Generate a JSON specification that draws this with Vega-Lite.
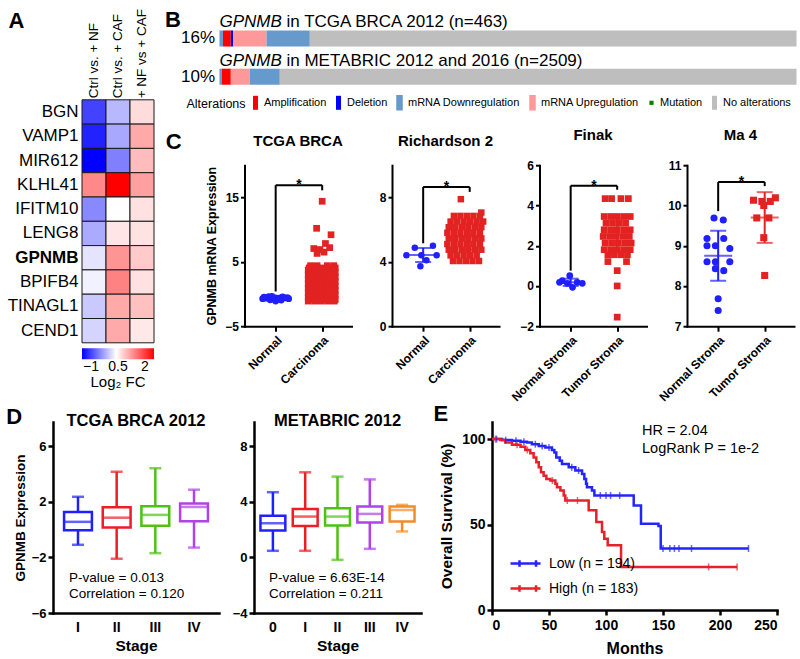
{
"$schema": "https://vega.github.io/schema/vega-lite/v6.json",
"background": "white",
"padding": {"left": 6, "top": 8, "right": 0, "bottom": 0},
"config": {
  "font": "Liberation Sans",
  "view": {"stroke": null},
  "axis": {"labelFont": "Liberation Sans", "titleFont": "Liberation Sans", "labelColor": "black", "titleColor": "black", "domainColor": "black", "tickColor": "black", "grid": false, "domainCap": "square", "labelOverlap": false},
  "legend": {"labelFont": "Liberation Sans", "titleFont": "Liberation Sans", "labelColor": "black", "titleColor": "black"},
  "title": {"font": "Liberation Sans", "color": "black"},
  "text": {"font": "Liberation Sans", "color": "black"}
},
"datasets": {
  "heat": [
    {"gene":"BGN","cmp":"Ctrl vs. + NF","fc":-1.0},{"gene":"BGN","cmp":"Ctrl vs. + CAF","fc":-0.13},{"gene":"BGN","cmp":"+ NF vs + CAF","fc":0.69},
    {"gene":"VAMP1","cmp":"Ctrl vs. + NF","fc":-1.25},{"gene":"VAMP1","cmp":"Ctrl vs. + CAF","fc":-0.25},{"gene":"VAMP1","cmp":"+ NF vs + CAF","fc":1.11},
    {"gene":"MIR612","cmp":"Ctrl vs. + NF","fc":-1.5},{"gene":"MIR612","cmp":"Ctrl vs. + CAF","fc":-0.55},{"gene":"MIR612","cmp":"+ NF vs + CAF","fc":0.95},
    {"gene":"KLHL41","cmp":"Ctrl vs. + NF","fc":1.37},{"gene":"KLHL41","cmp":"Ctrl vs. + CAF","fc":2.5},{"gene":"KLHL41","cmp":"+ NF vs + CAF","fc":1.18},
    {"gene":"IFITM10","cmp":"Ctrl vs. + NF","fc":-0.49},{"gene":"IFITM10","cmp":"Ctrl vs. + CAF","fc":0.4},{"gene":"IFITM10","cmp":"+ NF vs + CAF","fc":0.65},
    {"gene":"LENG8","cmp":"Ctrl vs. + NF","fc":-0.23},{"gene":"LENG8","cmp":"Ctrl vs. + CAF","fc":0.61},{"gene":"LENG8","cmp":"+ NF vs + CAF","fc":0.63},
    {"gene":"GPNMB","cmp":"Ctrl vs. + NF","fc":0.2},{"gene":"GPNMB","cmp":"Ctrl vs. + CAF","fc":1.28},{"gene":"GPNMB","cmp":"+ NF vs + CAF","fc":0.84},
    {"gene":"BPIFB4","cmp":"Ctrl vs. + NF","fc":0.3},{"gene":"BPIFB4","cmp":"Ctrl vs. + CAF","fc":1.43},{"gene":"BPIFB4","cmp":"+ NF vs + CAF","fc":0.65},
    {"gene":"TINAGL1","cmp":"Ctrl vs. + NF","fc":0.0},{"gene":"TINAGL1","cmp":"Ctrl vs. + CAF","fc":1.11},{"gene":"TINAGL1","cmp":"+ NF vs + CAF","fc":0.92},
    {"gene":"CEND1","cmp":"Ctrl vs. + NF","fc":0.08},{"gene":"CEND1","cmp":"Ctrl vs. + CAF","fc":1.1},{"gene":"CEND1","cmp":"+ NF vs + CAF","fc":0.59}
  ],
  "onco": [
    {"row":"16%","alt":"mRNA Downregulation","s":0,"e":0.6},
    {"row":"16%","alt":"Amplification","s":0.6,"e":1.96},
    {"row":"16%","alt":"Deletion","s":1.96,"e":2.37},
    {"row":"16%","alt":"mRNA Upregulation","s":2.37,"e":8.15},
    {"row":"16%","alt":"mRNA Downregulation","s":8.15,"e":15.65},
    {"row":"16%","alt":"No alterations","s":15.65,"e":100},
    {"row":"10%","alt":"mRNA Downregulation","s":0,"e":0.4},
    {"row":"10%","alt":"Amplification","s":0.4,"e":1.96},
    {"row":"10%","alt":"mRNA Upregulation","s":1.96,"e":5.25},
    {"row":"10%","alt":"mRNA Downregulation","s":5.25,"e":10.45},
    {"row":"10%","alt":"No alterations","s":10.45,"e":100}
  ],
  "oncot": [
    {"row":"16%","a":"GPNMB","b":"in TCGA BRCA 2012 (n=463)"},
    {"row":"10%","a":"GPNMB","b":"in METABRIC 2012 and 2016 (n=2509)"}
  ],
  "cpts": [
    {"p":"c1","g":"N","x":1.0,"v":-0.6},{"p":"c1","g":"N","x":0.9,"v":-0.55},{"p":"c1","g":"N","x":1.1,"v":-0.58},{"p":"c1","g":"N","x":0.8,"v":-0.65},{"p":"c1","g":"N","x":1.2,"v":-0.62},{"p":"c1","g":"N","x":0.75,"v":-0.5},{"p":"c1","g":"N","x":1.25,"v":-0.55},{"p":"c1","g":"N","x":0.95,"v":-0.8},{"p":"c1","g":"N","x":1.05,"v":-0.85},{"p":"c1","g":"N","x":1.0,"v":-1.1},{"p":"c1","g":"N","x":0.85,"v":-0.4},{"p":"c1","g":"N","x":1.15,"v":-0.45},{"p":"c1","g":"N","x":0.92,"v":-0.35},{"p":"c1","g":"N","x":1.08,"v":-0.7},{"p":"c1","g":"N","x":0.72,"v":-0.72},{"p":"c1","g":"N","x":1.28,"v":-0.72},{"p":"c1","g":"N","x":0.88,"v":-0.9},{"p":"c1","g":"N","x":1.12,"v":-0.95},
    {"p":"c1","g":"T","x":2.0,"v":14.4},{"p":"c1","g":"T","x":1.88,"v":10.2},{"p":"c1","g":"T","x":2.19,"v":9.2},{"p":"c1","g":"T","x":2.07,"v":7.84},{"p":"c1","g":"T","x":1.82,"v":7.06},{"p":"c1","g":"T","x":1.95,"v":6.9},{"p":"c1","g":"T","x":2.16,"v":7.2},{"p":"c1","g":"T","x":2.04,"v":6.5},{"p":"c1","g":"T","x":1.89,"v":6.3},
    {"p":"c1","g":"T","x":1.75,"v":4.4},{"p":"c1","g":"T","x":1.89,"v":4.4},{"p":"c1","g":"T","x":2.11,"v":4.4},{"p":"c1","g":"T","x":2.25,"v":4.4},
    {"p":"c1","g":"T","x":1.72,"v":4.05},{"p":"c1","g":"T","x":1.86,"v":4.05},{"p":"c1","g":"T","x":2.0,"v":4.05},{"p":"c1","g":"T","x":2.14,"v":4.05},{"p":"c1","g":"T","x":2.28,"v":4.05},
    {"p":"c1","g":"T","x":1.7,"v":3.7},{"p":"c1","g":"T","x":1.84,"v":3.7},{"p":"c1","g":"T","x":1.98,"v":3.7},{"p":"c1","g":"T","x":2.12,"v":3.7},{"p":"c1","g":"T","x":2.26,"v":3.7},
    {"p":"c1","g":"T","x":1.72,"v":3.35},{"p":"c1","g":"T","x":1.86,"v":3.35},{"p":"c1","g":"T","x":2.0,"v":3.35},{"p":"c1","g":"T","x":2.14,"v":3.35},{"p":"c1","g":"T","x":2.28,"v":3.35},
    {"p":"c1","g":"T","x":1.7,"v":3.0},{"p":"c1","g":"T","x":1.84,"v":3.0},{"p":"c1","g":"T","x":1.98,"v":3.0},{"p":"c1","g":"T","x":2.12,"v":3.0},{"p":"c1","g":"T","x":2.26,"v":3.0},
    {"p":"c1","g":"T","x":1.72,"v":2.65},{"p":"c1","g":"T","x":1.86,"v":2.65},{"p":"c1","g":"T","x":2.0,"v":2.65},{"p":"c1","g":"T","x":2.14,"v":2.65},{"p":"c1","g":"T","x":2.28,"v":2.65},
    {"p":"c1","g":"T","x":1.7,"v":2.3},{"p":"c1","g":"T","x":1.84,"v":2.3},{"p":"c1","g":"T","x":1.98,"v":2.3},{"p":"c1","g":"T","x":2.12,"v":2.3},{"p":"c1","g":"T","x":2.26,"v":2.3},
    {"p":"c1","g":"T","x":1.72,"v":1.95},{"p":"c1","g":"T","x":1.86,"v":1.95},{"p":"c1","g":"T","x":2.0,"v":1.95},{"p":"c1","g":"T","x":2.14,"v":1.95},{"p":"c1","g":"T","x":2.28,"v":1.95},
    {"p":"c1","g":"T","x":1.7,"v":1.6},{"p":"c1","g":"T","x":1.84,"v":1.6},{"p":"c1","g":"T","x":1.98,"v":1.6},{"p":"c1","g":"T","x":2.12,"v":1.6},{"p":"c1","g":"T","x":2.26,"v":1.6},
    {"p":"c1","g":"T","x":1.72,"v":1.25},{"p":"c1","g":"T","x":1.86,"v":1.25},{"p":"c1","g":"T","x":2.0,"v":1.25},{"p":"c1","g":"T","x":2.14,"v":1.25},{"p":"c1","g":"T","x":2.28,"v":1.25},
    {"p":"c1","g":"T","x":1.7,"v":0.9},{"p":"c1","g":"T","x":1.84,"v":0.9},{"p":"c1","g":"T","x":1.98,"v":0.9},{"p":"c1","g":"T","x":2.12,"v":0.9},{"p":"c1","g":"T","x":2.26,"v":0.9},
    {"p":"c1","g":"T","x":1.72,"v":0.55},{"p":"c1","g":"T","x":1.86,"v":0.55},{"p":"c1","g":"T","x":2.0,"v":0.55},{"p":"c1","g":"T","x":2.14,"v":0.55},{"p":"c1","g":"T","x":2.28,"v":0.55},
    {"p":"c1","g":"T","x":1.7,"v":0.2},{"p":"c1","g":"T","x":1.84,"v":0.2},{"p":"c1","g":"T","x":1.98,"v":0.2},{"p":"c1","g":"T","x":2.12,"v":0.2},{"p":"c1","g":"T","x":2.26,"v":0.2},
    {"p":"c1","g":"T","x":1.72,"v":-0.15},{"p":"c1","g":"T","x":1.86,"v":-0.15},{"p":"c1","g":"T","x":2.0,"v":-0.15},{"p":"c1","g":"T","x":2.14,"v":-0.15},{"p":"c1","g":"T","x":2.28,"v":-0.15},
    {"p":"c1","g":"T","x":1.7,"v":-0.5},{"p":"c1","g":"T","x":1.84,"v":-0.5},{"p":"c1","g":"T","x":1.98,"v":-0.5},{"p":"c1","g":"T","x":2.12,"v":-0.5},{"p":"c1","g":"T","x":2.26,"v":-0.5},
    {"p":"c1","g":"T","x":1.72,"v":-0.85},{"p":"c1","g":"T","x":1.86,"v":-0.85},{"p":"c1","g":"T","x":2.0,"v":-0.85},{"p":"c1","g":"T","x":2.14,"v":-0.85},{"p":"c1","g":"T","x":2.28,"v":-0.85},
    {"p":"c1","g":"T","x":1.7,"v":-1.1},{"p":"c1","g":"T","x":1.84,"v":-1.1},{"p":"c1","g":"T","x":1.98,"v":-1.1},{"p":"c1","g":"T","x":2.12,"v":-1.1},{"p":"c1","g":"T","x":2.26,"v":-1.1},
    {"p":"c2","g":"N","x":0.82,"v":4.87},{"p":"c2","g":"N","x":1.21,"v":5.0},{"p":"c2","g":"N","x":0.64,"v":4.41},{"p":"c2","g":"N","x":0.96,"v":4.41},{"p":"c2","g":"N","x":1.29,"v":4.41},{"p":"c2","g":"N","x":1.07,"v":4.1},{"p":"c2","g":"N","x":0.94,"v":3.73},
    {"p":"c2","g":"T","x":1.81,"v":7.89},{"p":"c2","g":"T","x":2.25,"v":7.06},
    {"p":"c2","g":"T","x":1.66,"v":6.85},{"p":"c2","g":"T","x":1.8,"v":6.85},{"p":"c2","g":"T","x":1.94,"v":6.85},{"p":"c2","g":"T","x":2.08,"v":6.85},{"p":"c2","g":"T","x":2.22,"v":6.85},
    {"p":"c2","g":"T","x":1.59,"v":6.5},{"p":"c2","g":"T","x":1.73,"v":6.5},{"p":"c2","g":"T","x":1.87,"v":6.5},{"p":"c2","g":"T","x":2.01,"v":6.5},{"p":"c2","g":"T","x":2.15,"v":6.5},{"p":"c2","g":"T","x":2.29,"v":6.5},
    {"p":"c2","g":"T","x":1.55,"v":6.15},{"p":"c2","g":"T","x":1.69,"v":6.15},{"p":"c2","g":"T","x":1.83,"v":6.15},{"p":"c2","g":"T","x":1.97,"v":6.15},{"p":"c2","g":"T","x":2.11,"v":6.15},{"p":"c2","g":"T","x":2.25,"v":6.15},
    {"p":"c2","g":"T","x":1.52,"v":5.8},{"p":"c2","g":"T","x":1.66,"v":5.8},{"p":"c2","g":"T","x":1.8,"v":5.8},{"p":"c2","g":"T","x":1.94,"v":5.8},{"p":"c2","g":"T","x":2.08,"v":5.8},{"p":"c2","g":"T","x":2.22,"v":5.8},
    {"p":"c2","g":"T","x":1.55,"v":5.45},{"p":"c2","g":"T","x":1.69,"v":5.45},{"p":"c2","g":"T","x":1.83,"v":5.45},{"p":"c2","g":"T","x":1.97,"v":5.45},{"p":"c2","g":"T","x":2.11,"v":5.45},{"p":"c2","g":"T","x":2.25,"v":5.45},
    {"p":"c2","g":"T","x":1.52,"v":5.1},{"p":"c2","g":"T","x":1.66,"v":5.1},{"p":"c2","g":"T","x":1.8,"v":5.1},{"p":"c2","g":"T","x":1.94,"v":5.1},{"p":"c2","g":"T","x":2.08,"v":5.1},{"p":"c2","g":"T","x":2.22,"v":5.1},
    {"p":"c2","g":"T","x":1.55,"v":4.75},{"p":"c2","g":"T","x":1.69,"v":4.75},{"p":"c2","g":"T","x":1.83,"v":4.75},{"p":"c2","g":"T","x":1.97,"v":4.75},{"p":"c2","g":"T","x":2.11,"v":4.75},{"p":"c2","g":"T","x":2.25,"v":4.75},
    {"p":"c2","g":"T","x":1.59,"v":4.4},{"p":"c2","g":"T","x":1.73,"v":4.4},{"p":"c2","g":"T","x":1.87,"v":4.4},{"p":"c2","g":"T","x":2.01,"v":4.4},{"p":"c2","g":"T","x":2.15,"v":4.4},
    {"p":"c2","g":"T","x":1.64,"v":4.05},{"p":"c2","g":"T","x":1.78,"v":4.05},{"p":"c2","g":"T","x":1.92,"v":4.05},{"p":"c2","g":"T","x":2.06,"v":4.05},{"p":"c2","g":"T","x":2.2,"v":4.05},
    {"p":"c3","g":"N","x":0.98,"v":0.51},{"p":"c3","g":"N","x":0.82,"v":0.26},{"p":"c3","g":"N","x":1.14,"v":0.18},{"p":"c3","g":"N","x":0.93,"v":0.13},{"p":"c3","g":"N","x":1.04,"v":-0.07},{"p":"c3","g":"N","x":0.76,"v":0.18},{"p":"c3","g":"N","x":1.25,"v":0.13},
    {"p":"c3","g":"T","x":1.74,"v":4.34},{"p":"c3","g":"T","x":1.88,"v":4.34},{"p":"c3","g":"T","x":2.08,"v":4.34},{"p":"c3","g":"T","x":2.24,"v":4.34},
    {"p":"c3","g":"T","x":1.72,"v":3.45},{"p":"c3","g":"T","x":1.86,"v":3.45},{"p":"c3","g":"T","x":2.0,"v":3.45},{"p":"c3","g":"T","x":2.14,"v":3.45},{"p":"c3","g":"T","x":2.28,"v":3.45},
    {"p":"c3","g":"T","x":1.76,"v":3.12},{"p":"c3","g":"T","x":1.9,"v":3.12},{"p":"c3","g":"T","x":2.04,"v":3.12},{"p":"c3","g":"T","x":2.18,"v":3.12},
    {"p":"c3","g":"T","x":1.72,"v":2.79},{"p":"c3","g":"T","x":1.86,"v":2.79},{"p":"c3","g":"T","x":2.0,"v":2.79},{"p":"c3","g":"T","x":2.14,"v":2.79},{"p":"c3","g":"T","x":2.28,"v":2.79},
    {"p":"c3","g":"T","x":1.7,"v":2.46},{"p":"c3","g":"T","x":1.84,"v":2.46},{"p":"c3","g":"T","x":1.98,"v":2.46},{"p":"c3","g":"T","x":2.12,"v":2.46},{"p":"c3","g":"T","x":2.26,"v":2.46},
    {"p":"c3","g":"T","x":1.74,"v":2.13},{"p":"c3","g":"T","x":1.88,"v":2.13},{"p":"c3","g":"T","x":2.02,"v":2.13},{"p":"c3","g":"T","x":2.16,"v":2.13},{"p":"c3","g":"T","x":2.3,"v":2.13},
    {"p":"c3","g":"T","x":1.72,"v":1.8},{"p":"c3","g":"T","x":1.86,"v":1.8},{"p":"c3","g":"T","x":2.0,"v":1.8},{"p":"c3","g":"T","x":2.14,"v":1.8},{"p":"c3","g":"T","x":2.28,"v":1.8},
    {"p":"c3","g":"T","x":1.8,"v":1.55},{"p":"c3","g":"T","x":1.94,"v":1.55},{"p":"c3","g":"T","x":2.08,"v":1.55},{"p":"c3","g":"T","x":2.22,"v":1.55},
    {"p":"c3","g":"T","x":1.8,"v":1.21},{"p":"c3","g":"T","x":2.2,"v":1.21},{"p":"c3","g":"T","x":2.0,"v":0.76},{"p":"c3","g":"T","x":2.0,"v":0.0},{"p":"c3","g":"T","x":2.0,"v":-1.55},
    {"p":"c4","g":"N","x":0.91,"v":9.69},{"p":"c4","g":"N","x":1.11,"v":9.64},{"p":"c4","g":"N","x":0.76,"v":9.18},{"p":"c4","g":"N","x":1.12,"v":9.18},{"p":"c4","g":"N","x":0.76,"v":9.0},{"p":"c4","g":"N","x":0.94,"v":9.0},{"p":"c4","g":"N","x":1.25,"v":8.93},{"p":"c4","g":"N","x":0.76,"v":8.6},{"p":"c4","g":"N","x":0.94,"v":8.6},{"p":"c4","g":"N","x":1.25,"v":8.6},{"p":"c4","g":"N","x":0.94,"v":8.43},{"p":"c4","g":"N","x":1.12,"v":8.38},{"p":"c4","g":"N","x":1.0,"v":7.68},{"p":"c4","g":"N","x":1.0,"v":7.39},
    {"p":"c4","g":"T","x":1.76,"v":10.13},{"p":"c4","g":"T","x":1.94,"v":10.1},{"p":"c4","g":"T","x":2.12,"v":10.1},{"p":"c4","g":"T","x":2.23,"v":10.19},{"p":"c4","g":"T","x":1.98,"v":10.0},{"p":"c4","g":"T","x":1.83,"v":9.69},{"p":"c4","g":"T","x":2.09,"v":9.69},{"p":"c4","g":"T","x":1.98,"v":9.2},{"p":"c4","g":"T","x":2.0,"v":8.26}
  ],
  "cerr": [
    {"p":"c1","g":"N","x":1,"mean":-0.62,"lo":-0.8,"hi":-0.45},{"p":"c1","g":"T","x":2,"mean":1.2,"lo":-0.6,"hi":3.0},
    {"p":"c2","g":"N","x":1,"mean":4.42,"lo":3.98,"hi":4.86},{"p":"c2","g":"T","x":2,"mean":5.55,"lo":4.75,"hi":6.35},
    {"p":"c3","g":"N","x":1,"mean":0.18,"lo":0.0,"hi":0.36},{"p":"c3","g":"T","x":2,"mean":2.55,"lo":1.75,"hi":3.35},
    {"p":"c4","g":"N","x":1,"mean":8.75,"lo":8.13,"hi":9.37},{"p":"c4","g":"T","x":2,"mean":9.7,"lo":9.07,"hi":10.33}
  ],
  "brk": [
    {"p":"c1","x":1,"y":0.4,"x2":1,"y2":16.9},{"p":"c1","x":1,"y":16.9,"x2":2,"y2":16.9},{"p":"c1","x":2,"y":16.9,"x2":2,"y2":16.1},
    {"p":"c2","x":1,"y":5.15,"x2":1,"y2":8.65},{"p":"c2","x":1,"y":8.65,"x2":2,"y2":8.65},{"p":"c2","x":2,"y":8.65,"x2":2,"y2":8.34},
    {"p":"c3","x":1,"y":0.76,"x2":1,"y2":4.98},{"p":"c3","x":1,"y":4.98,"x2":2,"y2":4.98},{"p":"c3","x":2,"y":4.98,"x2":2,"y2":4.78},
    {"p":"c4","x":1,"y":9.86,"x2":1,"y2":10.58},{"p":"c4","x":1,"y":10.58,"x2":2,"y2":10.58},{"p":"c4","x":2,"y":10.58,"x2":2,"y2":10.48}
  ],
  "star": [
    {"p":"c1","x":1.5,"y":16.9},{"p":"c2","x":1.5,"y":8.65},{"p":"c3","x":1.5,"y":4.98},{"p":"c4","x":1.5,"y":10.58}
  ],
  "box": [
    {"p":"d1","stage":"I","lo":-1.1,"q1":-0.05,"med":0.55,"q3":1.25,"hi":2.35},
    {"p":"d1","stage":"II","lo":-2.1,"q1":0.15,"med":0.85,"q3":1.6,"hi":4.15},
    {"p":"d1","stage":"III","lo":-1.7,"q1":0.27,"med":1.05,"q3":1.67,"hi":4.4},
    {"p":"d1","stage":"IV","lo":-1.3,"q1":0.6,"med":1.62,"q3":1.87,"hi":2.86},
    {"p":"d2","stage":"0","lo":0.47,"q1":1.93,"med":2.45,"q3":2.98,"hi":4.68},
    {"p":"d2","stage":"I","lo":0.47,"q1":2.26,"med":2.93,"q3":3.48,"hi":6.11},
    {"p":"d2","stage":"II","lo":-0.18,"q1":2.29,"med":2.93,"q3":3.53,"hi":5.8},
    {"p":"d2","stage":"III","lo":0.61,"q1":2.5,"med":3.12,"q3":3.65,"hi":5.6},
    {"p":"d2","stage":"IV","lo":1.86,"q1":2.57,"med":3.4,"q3":3.65,"hi":3.77}
  ],
  "dtxt": [
    {"p":"d1","stage":"I","y":-3.5,"label":"P-value = 0.013"},
    {"p":"d1","stage":"I","y":-4.65,"label":"Correlation = 0.120"},
    {"p":"d2","stage":"0","y":-1.5,"label":"P-value = 6.63E-14"},
    {"p":"d2","stage":"0","y":-2.65,"label":"Correlation = 0.211"}
  ],
  "km": [
    {"grp":"Low (n = 194)","t":0,"s":100},{"grp":"Low (n = 194)","t":8.8,"s":99.4},{"grp":"Low (n = 194)","t":17.5,"s":99},{"grp":"Low (n = 194)","t":25,"s":98.4},{"grp":"Low (n = 194)","t":30.7,"s":98},{"grp":"Low (n = 194)","t":35,"s":97},{"grp":"Low (n = 194)","t":41,"s":96},{"grp":"Low (n = 194)","t":46.8,"s":95.1},{"grp":"Low (n = 194)","t":52.6,"s":93.6},{"grp":"Low (n = 194)","t":54.7,"s":92.2},{"grp":"Low (n = 194)","t":56.4,"s":89.3},{"grp":"Low (n = 194)","t":59.4,"s":87.4},{"grp":"Low (n = 194)","t":61.4,"s":85.4},{"grp":"Low (n = 194)","t":67.3,"s":83.5},{"grp":"Low (n = 194)","t":73.1,"s":81.6},{"grp":"Low (n = 194)","t":79,"s":79.6},{"grp":"Low (n = 194)","t":81,"s":76.7},{"grp":"Low (n = 194)","t":82.5,"s":73.8},{"grp":"Low (n = 194)","t":83.3,"s":71.8},{"grp":"Low (n = 194)","t":87.7,"s":69.9},{"grp":"Low (n = 194)","t":89.8,"s":67},{"grp":"Low (n = 194)","t":124.3,"s":61.2},{"grp":"Low (n = 194)","t":130.7,"s":50.5},{"grp":"Low (n = 194)","t":146,"s":49.2},{"grp":"Low (n = 194)","t":148,"s":36},{"grp":"Low (n = 194)","t":225,"s":36},
    {"grp":"High (n = 183)","t":0,"s":100},{"grp":"High (n = 183)","t":7.3,"s":99.4},{"grp":"High (n = 183)","t":11.7,"s":98},{"grp":"High (n = 183)","t":17.5,"s":96.7},{"grp":"High (n = 183)","t":25,"s":95.5},{"grp":"High (n = 183)","t":29.2,"s":93.6},{"grp":"High (n = 183)","t":33.6,"s":91.7},{"grp":"High (n = 183)","t":36.5,"s":89.3},{"grp":"High (n = 183)","t":38.9,"s":86.4},{"grp":"High (n = 183)","t":41,"s":83.5},{"grp":"High (n = 183)","t":43,"s":80.6},{"grp":"High (n = 183)","t":45.3,"s":78.6},{"grp":"High (n = 183)","t":47.7,"s":76.7},{"grp":"High (n = 183)","t":51.2,"s":75.7},{"grp":"High (n = 183)","t":55.6,"s":73.8},{"grp":"High (n = 183)","t":57,"s":71.8},{"grp":"High (n = 183)","t":60,"s":69.9},{"grp":"High (n = 183)","t":62.9,"s":67},{"grp":"High (n = 183)","t":64.3,"s":64.1},{"grp":"High (n = 183)","t":84.8,"s":58.3},{"grp":"High (n = 183)","t":91.5,"s":51.5},{"grp":"High (n = 183)","t":96.5,"s":45.6},{"grp":"High (n = 183)","t":98.5,"s":41.7},{"grp":"High (n = 183)","t":101.5,"s":37.9},{"grp":"High (n = 183)","t":113.2,"s":25.2},{"grp":"High (n = 183)","t":215,"s":25.2}
  ],
  "kmc": [
    {"grp":"Low (n = 194)","t":4,"s":100},{"grp":"Low (n = 194)","t":12,"s":99.4},{"grp":"Low (n = 194)","t":21,"s":99},{"grp":"Low (n = 194)","t":28,"s":98.4},{"grp":"Low (n = 194)","t":38,"s":97},{"grp":"Low (n = 194)","t":44,"s":96},{"grp":"Low (n = 194)","t":50,"s":95.1},{"grp":"Low (n = 194)","t":70,"s":83.5},{"grp":"Low (n = 194)","t":76,"s":81.6},{"grp":"Low (n = 194)","t":95,"s":67},{"grp":"Low (n = 194)","t":100,"s":67},{"grp":"Low (n = 194)","t":104,"s":67},{"grp":"Low (n = 194)","t":112,"s":67},{"grp":"Low (n = 194)","t":150,"s":36},{"grp":"Low (n = 194)","t":156,"s":36},{"grp":"Low (n = 194)","t":160,"s":36},{"grp":"Low (n = 194)","t":164,"s":36},{"grp":"Low (n = 194)","t":175,"s":36},{"grp":"Low (n = 194)","t":225,"s":36},
    {"grp":"High (n = 183)","t":3,"s":100},{"grp":"High (n = 183)","t":22,"s":96.7},{"grp":"High (n = 183)","t":31,"s":93.6},{"grp":"High (n = 183)","t":53,"s":75.7},{"grp":"High (n = 183)","t":66,"s":64.1},{"grp":"High (n = 183)","t":75,"s":64.1},{"grp":"High (n = 183)","t":190,"s":25.2},{"grp":"High (n = 183)","t":215,"s":25.2}
  ],
  "hr": [
    {"t":131.6,"s":104.8,"label":"HR = 2.04"},
    {"t":131.6,"s":94.3,"label":"LogRank P = 1e-2"}
  ]
},
"spacing": -1,
"resolve": {"scale": {"color": "independent", "fill": "independent", "shape": "independent"}, "legend": {"color": "independent", "fill": "independent", "shape": "independent"}},
"vconcat": [
  {
    "spacing": 9.5,
    "resolve": {"scale": {"color": "independent", "fill": "independent", "shape": "independent"}, "legend": {"color": "independent", "fill": "independent", "shape": "independent"}},
    "hconcat": [
      {
        "width": 101, "height": 323.8,
        "data": {"name": "heat"},
        "mark": {"type": "rect", "stroke": "#1a1a1a", "strokeWidth": 1},
        "encoding": {
          "x": {"field": "cmp", "type": "nominal", "sort": ["Ctrl vs. + NF", "Ctrl vs. + CAF", "+ NF vs + CAF"], "scale": {"paddingInner": 0, "paddingOuter": 0.6042, "align": 1},
                "axis": {"orient": "top", "labelAngle": -90, "labelFontSize": 13.5, "labelPadding": -78.8, "ticks": false, "domain": false, "title": null}},
          "y": {"field": "gene", "type": "nominal", "scale": {"domain": ["·1", "·2", "·3", "BGN", "VAMP1", "MIR612", "KLHL41", "IFITM10", "LENG8", "GPNMB", "BPIFB4", "TINAGL1", "CEND1"], "paddingInner": 0, "paddingOuter": 0.1626, "align": 1},
                "axis": {"labelFontSize": 17, "labelPadding": -25, "ticks": false, "domain": false,
                         "labelExpr": "length(datum.value) < 3 ? '' : datum.value",
                         "labelFontWeight": {"condition": {"test": "datum.value == 'GPNMB'", "value": "bold"}, "value": "normal"},
                         "title": "A", "titleAngle": 0, "titleX": -45, "titleY": 8.3, "titleAlign": "left", "titleBaseline": "alphabetic", "titleFontSize": 22, "titleFontWeight": "bold"}},
          "color": {"field": "fc", "type": "quantitative", "scale": {"domain": [-1.5, 0.4, 2.5], "range": ["#0000ff", "#ffffff", "#ff0000"], "interpolate": "rgb"},
                    "legend": {"orient": "none", "legendX": 29, "legendY": 329.3, "direction": "horizontal", "gradientLength": 72, "gradientThickness": 11, "values": [-1, 0.5, 2], "format": "~g", "title": "Log₂ FC", "titleOrient": "bottom", "titleAnchor": "middle", "titleFontSize": 15, "titleFontWeight": "normal", "titlePadding": 1, "labelFontSize": 14, "labelOffset": 1, "padding": 0, "labelOverlap": false, "gradientStrokeWidth": 0}}
        }
      },
      {
        "spacing": 15.2,
        "resolve": {"scale": {"color": "independent", "fill": "independent", "shape": "independent"}, "legend": {"color": "independent", "fill": "independent", "shape": "independent"}},
        "vconcat": [
          {
            "width": 552, "height": 77.2,
            "layer": [
              {
                "data": {"name": "onco"},
                "mark": {"type": "bar"},
                "encoding": {
                  "x": {"field": "s", "type": "quantitative", "scale": {"domain": [4.3328, 100], "nice": false, "zero": false}, "axis": null},
                  "x2": {"field": "e"},
                  "y": {"field": "row", "type": "nominal", "sort": ["16%", "10%"], "scale": {"paddingInner": 0.58, "paddingOuter": 0.3},
                        "axis": {"labelFontSize": 17, "labelPadding": 30, "ticks": false, "domain": false, "title": "B", "titleAngle": 0, "titleX": -80, "titleY": 7.3, "titleAlign": "left", "titleBaseline": "alphabetic", "titleFontSize": 22, "titleFontWeight": "bold"}},
                  "fill": {"field": "alt", "type": "nominal",
                           "scale": {"domain": ["Amplification", "Deletion", "mRNA Downregulation", "mRNA Upregulation", "Mutation", "No alterations"], "range": ["#ff0000", "#0000ff", "#6699cc", "#ff9999", "#008000", "#bebebe"]},
                           "legend": {"orient": "none", "legendX": -58, "legendY": 75.8, "direction": "horizontal", "columns": 6, "gridAlign": "none", "title": "Alterations", "titleOrient": "left", "titleFontSize": 12.5, "titleFontWeight": "normal", "titlePadding": 1, "labelFontSize": 11, "labelOffset": 0.5, "columnPadding": 4, "symbolType": "M-0.357,-1H0.357V1H-0.357Z", "symbolSize": 196, "padding": 0,
                                      "encode": {"symbols": {"update": {
                                        "shape": {"signal": "datum.value === 'Mutation' ? 'M-0.3,-0.3H0.3V0.3H-0.3Z' : 'M-0.357,-1H0.357V1H-0.357Z'"},
                                        "fill": {"signal": "datum.value === 'Amplification' ? '#ff0000' : datum.value === 'Deletion' ? '#0000ff' : datum.value === 'Mutation' ? '#008000' : datum.value === 'No alterations' ? '#bebebe' : '#ffffff'"},
                                        "stroke": {"signal": "datum.value === 'mRNA Downregulation' ? '#6699cc' : datum.value === 'mRNA Upregulation' ? '#ff9999' : 'transparent'"},
                                        "strokeWidth": {"value": 1.5}}}}}}
                }
              },
              {
                "data": {"name": "oncot"},
                "mark": {"type": "text", "align": "left", "baseline": "alphabetic", "dy": -11, "fontSize": 17, "fontStyle": "italic"},
                "encoding": {"x": {"datum": 0, "type": "quantitative"}, "y": {"field": "row", "type": "nominal", "sort": ["16%", "10%"]}, "text": {"field": "a"}}
              },
              {
                "data": {"name": "oncot"},
                "mark": {"type": "text", "align": "left", "baseline": "alphabetic", "dy": -11, "dx": 67, "fontSize": 17},
                "encoding": {"x": {"datum": 0, "type": "quantitative"}, "y": {"field": "row", "type": "nominal", "sort": ["16%", "10%"]}, "text": {"field": "b"}}
              }
            ]
          },
          {
            "title": {"text": "C", "anchor": "start", "fontSize": 22, "fontWeight": "bold", "offset": 0, "baseline": "alphabetic", "dx": -40, "dy": 43},
            "bounds": "flush",
            "spacing": 40.5,
            "resolve": {"scale": {"color": "independent", "shape": "independent"}, "legend": {"color": "independent", "shape": "independent"}},
            "hconcat": [
              {
                "width": 107, "height": 161,
                "title": {"text": "TCGA BRCA", "fontSize": 15, "fontWeight": "bold", "offset": 16},
                "layer": [
                  {"data": {"name": "cpts"}, "transform": [{"filter": "datum.p == 'c1'"}],
                   "mark": {"type": "point", "filled": true, "size": 45, "opacity": 1, "strokeWidth": 0},
                   "encoding": {
                     "x": {"field": "x", "type": "quantitative", "scale": {"domain": [0.33, 2.63], "nice": false, "zero": false},
                           "axis": {"values": [1, 2], "labelExpr": "datum.value == 1 ? 'Normal' : 'Carcinoma'", "labelAngle": -45, "labelFontSize": 12, "labelFontWeight": "bold", "tickSize": 5, "tickWidth": 2, "domainWidth": 2, "labelPadding": 3, "title": null}},
                     "y": {"field": "v", "type": "quantitative", "scale": {"domain": [-5, 20], "nice": false, "zero": false},
                           "axis": {"values": [-5, 0, 5, 10, 15, 20], "labelFontSize": 12, "labelFontWeight": "bold", "tickSize": 4, "tickWidth": 2, "domainWidth": 2, "labelPadding": 2, "title": "GPNMB mRNA Expression", "titleFontSize": 12.5, "titleFontWeight": "bold", "titlePadding": 6}},
                     "shape": {"field": "g", "type": "nominal", "scale": {"domain": ["N", "T"], "range": ["circle", "square"]}, "legend": null},
                     "color": {"field": "g", "type": "nominal", "scale": {"domain": ["N", "T"], "range": ["#1f1fff", "#e32222"]}, "legend": null}}},
                  {"data": {"name": "cerr"}, "transform": [{"filter": "datum.p == 'c1'"}], "mark": {"type": "rule", "strokeWidth": 2},
                   "encoding": {"x": {"field": "x", "type": "quantitative"}, "y": {"field": "lo", "type": "quantitative"}, "y2": {"field": "hi"}, "color": {"field": "g", "type": "nominal"}}},
                  {"data": {"name": "cerr"}, "transform": [{"filter": "datum.p == 'c1'"}], "mark": {"type": "tick", "orient": "horizontal", "size": 28, "thickness": 2},
                   "encoding": {"x": {"field": "x", "type": "quantitative"}, "y": {"field": "mean", "type": "quantitative"}, "color": {"field": "g", "type": "nominal"}}},
                  {"data": {"name": "brk"}, "transform": [{"filter": "datum.p == 'c1'"}], "mark": {"type": "rule", "strokeWidth": 2, "color": "black"},
                   "encoding": {"x": {"field": "x", "type": "quantitative"}, "y": {"field": "y", "type": "quantitative"}, "x2": {"field": "x2"}, "y2": {"field": "y2"}}},
                  {"data": {"name": "star"}, "transform": [{"filter": "datum.p == 'c1'"}], "mark": {"type": "text", "text": "*", "fontSize": 14, "fontWeight": "bold", "baseline": "middle"},
                   "encoding": {"x": {"field": "x", "type": "quantitative"}, "y": {"field": "y", "type": "quantitative"}}}
                ]
              },
              {
                "width": 107, "height": 161,
                "title": {"text": "Richardson 2", "fontSize": 15, "fontWeight": "bold", "offset": 16},
                "layer": [
                  {"data": {"name": "cpts"}, "transform": [{"filter": "datum.p == 'c2'"}],
                   "mark": {"type": "point", "filled": true, "size": 42, "opacity": 1, "strokeWidth": 0},
                   "encoding": {
                     "x": {"field": "x", "type": "quantitative", "scale": {"domain": [0.33, 2.63], "nice": false, "zero": false},
                           "axis": {"values": [1, 2], "labelExpr": "datum.value == 1 ? 'Normal' : 'Carcinoma'", "labelAngle": -45, "labelFontSize": 12, "labelFontWeight": "bold", "tickSize": 5, "tickWidth": 2, "domainWidth": 2, "labelPadding": 3, "title": null}},
                     "y": {"field": "v", "type": "quantitative", "scale": {"domain": [0, 10], "nice": false, "zero": false},
                           "axis": {"values": [0, 2, 4, 6, 8, 10], "labelFontSize": 12, "labelFontWeight": "bold", "tickSize": 4, "tickWidth": 2, "domainWidth": 2, "labelPadding": 2, "title": null}},
                     "shape": {"field": "g", "type": "nominal", "scale": {"domain": ["N", "T"], "range": ["circle", "square"]}, "legend": null},
                     "color": {"field": "g", "type": "nominal", "scale": {"domain": ["N", "T"], "range": ["#1f1fff", "#e32222"]}, "legend": null}}},
                  {"data": {"name": "cerr"}, "transform": [{"filter": "datum.p == 'c2'"}], "mark": {"type": "rule", "strokeWidth": 2},
                   "encoding": {"x": {"field": "x", "type": "quantitative"}, "y": {"field": "lo", "type": "quantitative"}, "y2": {"field": "hi"}, "color": {"field": "g", "type": "nominal"}}},
                  {"data": {"name": "cerr"}, "transform": [{"filter": "datum.p == 'c2'"}], "mark": {"type": "tick", "orient": "horizontal", "size": 28, "thickness": 2},
                   "encoding": {"x": {"field": "x", "type": "quantitative"}, "y": {"field": "mean", "type": "quantitative"}, "color": {"field": "g", "type": "nominal"}}},
                  {"data": {"name": "cerr"}, "transform": [{"filter": "datum.p == 'c2'"}], "mark": {"type": "tick", "orient": "horizontal", "size": 16, "thickness": 2},
                   "encoding": {"x": {"field": "x", "type": "quantitative"}, "y": {"field": "lo", "type": "quantitative"}, "color": {"field": "g", "type": "nominal"}}},
                  {"data": {"name": "cerr"}, "transform": [{"filter": "datum.p == 'c2'"}], "mark": {"type": "tick", "orient": "horizontal", "size": 16, "thickness": 2},
                   "encoding": {"x": {"field": "x", "type": "quantitative"}, "y": {"field": "hi", "type": "quantitative"}, "color": {"field": "g", "type": "nominal"}}},
                  {"data": {"name": "brk"}, "transform": [{"filter": "datum.p == 'c2'"}], "mark": {"type": "rule", "strokeWidth": 2, "color": "black"},
                   "encoding": {"x": {"field": "x", "type": "quantitative"}, "y": {"field": "y", "type": "quantitative"}, "x2": {"field": "x2"}, "y2": {"field": "y2"}}},
                  {"data": {"name": "star"}, "transform": [{"filter": "datum.p == 'c2'"}], "mark": {"type": "text", "text": "*", "fontSize": 14, "fontWeight": "bold", "baseline": "middle"},
                   "encoding": {"x": {"field": "x", "type": "quantitative"}, "y": {"field": "y", "type": "quantitative"}}}
                ]
              },
              {
                "width": 107, "height": 161,
                "title": {"text": "Finak", "fontSize": 15, "fontWeight": "bold", "offset": 16},
                "layer": [
                  {"data": {"name": "cpts"}, "transform": [{"filter": "datum.p == 'c3'"}],
                   "mark": {"type": "point", "filled": true, "size": 45, "opacity": 1, "strokeWidth": 0},
                   "encoding": {
                     "x": {"field": "x", "type": "quantitative", "scale": {"domain": [0.33, 2.63], "nice": false, "zero": false},
                           "axis": {"values": [1, 2], "labelExpr": "datum.value == 1 ? 'Normal Stroma' : 'Tumor Stroma'", "labelAngle": -45, "labelFontSize": 12, "labelFontWeight": "bold", "tickSize": 5, "tickWidth": 2, "domainWidth": 2, "labelPadding": 3, "title": null}},
                     "y": {"field": "v", "type": "quantitative", "scale": {"domain": [-2, 6], "nice": false, "zero": false},
                           "axis": {"values": [-2, 0, 2, 4, 6], "labelFontSize": 12, "labelFontWeight": "bold", "tickSize": 4, "tickWidth": 2, "domainWidth": 2, "labelPadding": 2, "title": null}},
                     "shape": {"field": "g", "type": "nominal", "scale": {"domain": ["N", "T"], "range": ["circle", "square"]}, "legend": null},
                     "color": {"field": "g", "type": "nominal", "scale": {"domain": ["N", "T"], "range": ["#1f1fff", "#e32222"]}, "legend": null}}},
                  {"data": {"name": "cerr"}, "transform": [{"filter": "datum.p == 'c3'"}], "mark": {"type": "rule", "strokeWidth": 2},
                   "encoding": {"x": {"field": "x", "type": "quantitative"}, "y": {"field": "lo", "type": "quantitative"}, "y2": {"field": "hi"}, "color": {"field": "g", "type": "nominal"}}},
                  {"data": {"name": "cerr"}, "transform": [{"filter": "datum.p == 'c3'"}], "mark": {"type": "tick", "orient": "horizontal", "size": 28, "thickness": 2},
                   "encoding": {"x": {"field": "x", "type": "quantitative"}, "y": {"field": "mean", "type": "quantitative"}, "color": {"field": "g", "type": "nominal"}}},
                  {"data": {"name": "cerr"}, "transform": [{"filter": "datum.p == 'c3'"}], "mark": {"type": "tick", "orient": "horizontal", "size": 16, "thickness": 2},
                   "encoding": {"x": {"field": "x", "type": "quantitative"}, "y": {"field": "lo", "type": "quantitative"}, "color": {"field": "g", "type": "nominal"}}},
                  {"data": {"name": "cerr"}, "transform": [{"filter": "datum.p == 'c3'"}], "mark": {"type": "tick", "orient": "horizontal", "size": 16, "thickness": 2},
                   "encoding": {"x": {"field": "x", "type": "quantitative"}, "y": {"field": "hi", "type": "quantitative"}, "color": {"field": "g", "type": "nominal"}}},
                  {"data": {"name": "brk"}, "transform": [{"filter": "datum.p == 'c3'"}], "mark": {"type": "rule", "strokeWidth": 2, "color": "black"},
                   "encoding": {"x": {"field": "x", "type": "quantitative"}, "y": {"field": "y", "type": "quantitative"}, "x2": {"field": "x2"}, "y2": {"field": "y2"}}},
                  {"data": {"name": "star"}, "transform": [{"filter": "datum.p == 'c3'"}], "mark": {"type": "text", "text": "*", "fontSize": 14, "fontWeight": "bold", "baseline": "middle"},
                   "encoding": {"x": {"field": "x", "type": "quantitative"}, "y": {"field": "y", "type": "quantitative"}}}
                ]
              },
              {
                "width": 107, "height": 161,
                "title": {"text": "Ma 4", "fontSize": 15, "fontWeight": "bold", "offset": 16},
                "layer": [
                  {"data": {"name": "cpts"}, "transform": [{"filter": "datum.p == 'c4'"}],
                   "mark": {"type": "point", "filled": true, "size": 50, "opacity": 1, "strokeWidth": 0},
                   "encoding": {
                     "x": {"field": "x", "type": "quantitative", "scale": {"domain": [0.33, 2.63], "nice": false, "zero": false},
                           "axis": {"values": [1, 2], "labelExpr": "datum.value == 1 ? 'Normal Stroma' : 'Tumor Stroma'", "labelAngle": -45, "labelFontSize": 12, "labelFontWeight": "bold", "tickSize": 5, "tickWidth": 2, "domainWidth": 2, "labelPadding": 3, "title": null}},
                     "y": {"field": "v", "type": "quantitative", "scale": {"domain": [7, 11], "nice": false, "zero": false},
                           "axis": {"values": [7, 8, 9, 10, 11], "labelFontSize": 12, "labelFontWeight": "bold", "tickSize": 4, "tickWidth": 2, "domainWidth": 2, "labelPadding": 2, "title": null}},
                     "shape": {"field": "g", "type": "nominal", "scale": {"domain": ["N", "T"], "range": ["circle", "square"]}, "legend": null},
                     "color": {"field": "g", "type": "nominal", "scale": {"domain": ["N", "T"], "range": ["#1f1fff", "#e32222"]}, "legend": null}}},
                  {"data": {"name": "cerr"}, "transform": [{"filter": "datum.p == 'c4'"}], "mark": {"type": "rule", "strokeWidth": 2},
                   "encoding": {"x": {"field": "x", "type": "quantitative"}, "y": {"field": "lo", "type": "quantitative"}, "y2": {"field": "hi"}, "color": {"field": "g", "type": "nominal"}}},
                  {"data": {"name": "cerr"}, "transform": [{"filter": "datum.p == 'c4'"}], "mark": {"type": "tick", "orient": "horizontal", "size": 28, "thickness": 2},
                   "encoding": {"x": {"field": "x", "type": "quantitative"}, "y": {"field": "mean", "type": "quantitative"}, "color": {"field": "g", "type": "nominal"}}},
                  {"data": {"name": "cerr"}, "transform": [{"filter": "datum.p == 'c4'"}], "mark": {"type": "tick", "orient": "horizontal", "size": 16, "thickness": 2},
                   "encoding": {"x": {"field": "x", "type": "quantitative"}, "y": {"field": "lo", "type": "quantitative"}, "color": {"field": "g", "type": "nominal"}}},
                  {"data": {"name": "cerr"}, "transform": [{"filter": "datum.p == 'c4'"}], "mark": {"type": "tick", "orient": "horizontal", "size": 16, "thickness": 2},
                   "encoding": {"x": {"field": "x", "type": "quantitative"}, "y": {"field": "hi", "type": "quantitative"}, "color": {"field": "g", "type": "nominal"}}},
                  {"data": {"name": "brk"}, "transform": [{"filter": "datum.p == 'c4'"}], "mark": {"type": "rule", "strokeWidth": 2, "color": "black"},
                   "encoding": {"x": {"field": "x", "type": "quantitative"}, "y": {"field": "y", "type": "quantitative"}, "x2": {"field": "x2"}, "y2": {"field": "y2"}}},
                  {"data": {"name": "star"}, "transform": [{"filter": "datum.p == 'c4'"}], "mark": {"type": "text", "text": "*", "fontSize": 14, "fontWeight": "bold", "baseline": "middle"},
                   "encoding": {"x": {"field": "x", "type": "quantitative"}, "y": {"field": "y", "type": "quantitative"}}}
                ]
              }
            ]
          }
        ]
      }
    ]
  },
  {
    "spacing": 12,
    "resolve": {"scale": {"color": "independent", "fill": "independent", "shape": "independent"}, "legend": {"color": "independent", "fill": "independent", "shape": "independent"}},
    "hconcat": [
      {
        "title": {"text": "D", "anchor": "start", "fontSize": 22, "fontWeight": "bold", "offset": 0, "baseline": "alphabetic", "dx": -7, "dy": 33},
        "bounds": "flush",
        "spacing": 35,
        "resolve": {"scale": {"color": "independent"}, "legend": {"color": "independent"}},
        "hconcat": [
          {
            "width": 166, "height": 191,
            "title": {"text": "TCGA BRCA 2012", "fontSize": 16.5, "fontWeight": "bold", "offset": -7.75},
            "layer": [
              {"data": {"name": "box"}, "transform": [{"filter": "datum.p == 'd1'"}], "mark": {"type": "rule", "strokeWidth": 2.5},
               "encoding": {
                 "x": {"field": "stage", "type": "ordinal", "sort": ["I", "II", "III", "IV"], "scale": {"paddingInner": 0, "paddingOuter": 0.146},
                       "axis": {"labelAngle": 0, "labelFontSize": 14, "labelFontWeight": "bold", "tickSize": 0, "domainWidth": 2.5, "labelPadding": 7, "title": "Stage", "titleFontSize": 15.5, "titleFontWeight": "bold", "titlePadding": 4}},
                 "y": {"field": "lo", "type": "quantitative", "scale": {"domain": [-6, 7.7246], "nice": false, "zero": false},
                       "axis": {"values": [-6, -4, -2, 0, 2, 4, 6], "labelFontSize": 13, "labelFontWeight": "bold", "tickSize": 5, "tickWidth": 2.5, "domainWidth": 2.5, "labelPadding": 2, "title": "GPNMB Expression", "titleFontSize": 13.5, "titleFontWeight": "bold", "titlePadding": 4}},
                 "y2": {"field": "q1"},
                 "color": {"field": "stage", "type": "nominal", "scale": {"domain": ["I", "II", "III", "IV"], "range": ["#1f1fff", "#ee1c24", "#4cc214", "#b042e8"]}, "legend": null}}},
              {"data": {"name": "box"}, "transform": [{"filter": "datum.p == 'd1'"}], "mark": {"type": "rule", "strokeWidth": 2.5},
               "encoding": {"x": {"field": "stage", "type": "ordinal", "sort": ["I", "II", "III", "IV"]}, "y": {"field": "q3", "type": "quantitative"}, "y2": {"field": "hi"}, "color": {"field": "stage", "type": "nominal"}}},
              {"data": {"name": "box"}, "transform": [{"filter": "datum.p == 'd1'"}], "mark": {"type": "bar", "filled": false, "strokeWidth": 2.5, "width": {"band": 0.72}},
               "encoding": {"x": {"field": "stage", "type": "ordinal", "sort": ["I", "II", "III", "IV"]}, "y": {"field": "q1", "type": "quantitative"}, "y2": {"field": "q3"}, "color": {"field": "stage", "type": "nominal"}}},
              {"data": {"name": "box"}, "transform": [{"filter": "datum.p == 'd1'"}], "mark": {"type": "tick", "orient": "horizontal", "size": 28, "thickness": 2.5},
               "encoding": {"x": {"field": "stage", "type": "ordinal", "sort": ["I", "II", "III", "IV"]}, "y": {"field": "med", "type": "quantitative"}, "color": {"field": "stage", "type": "nominal"}}},
              {"data": {"name": "box"}, "transform": [{"filter": "datum.p == 'd1'"}], "mark": {"type": "tick", "orient": "horizontal", "size": 12, "thickness": 2.5},
               "encoding": {"x": {"field": "stage", "type": "ordinal", "sort": ["I", "II", "III", "IV"]}, "y": {"field": "lo", "type": "quantitative"}, "color": {"field": "stage", "type": "nominal"}}},
              {"data": {"name": "box"}, "transform": [{"filter": "datum.p == 'd1'"}], "mark": {"type": "tick", "orient": "horizontal", "size": 12, "thickness": 2.5},
               "encoding": {"x": {"field": "stage", "type": "ordinal", "sort": ["I", "II", "III", "IV"]}, "y": {"field": "hi", "type": "quantitative"}, "color": {"field": "stage", "type": "nominal"}}},
              {"data": {"name": "dtxt"}, "transform": [{"filter": "datum.p == 'd1'"}], "mark": {"type": "text", "align": "left", "baseline": "middle", "dx": -9, "fontSize": 13.5},
               "encoding": {"x": {"field": "stage", "type": "ordinal", "sort": ["I", "II", "III", "IV"]}, "y": {"field": "y", "type": "quantitative"}, "text": {"field": "label"}}}
            ]
          },
          {
            "width": 167, "height": 191,
            "title": {"text": "METABRIC 2012", "fontSize": 16.5, "fontWeight": "bold", "offset": -7.75},
            "layer": [
              {"mark": {"type": "rule", "strokeDash": [2, 2], "strokeWidth": 1.5, "color": "black"},
               "encoding": {"y": {"datum": 0, "type": "quantitative"}}},
              {"data": {"name": "box"}, "transform": [{"filter": "datum.p == 'd2'"}], "mark": {"type": "rule", "strokeWidth": 2.5},
               "encoding": {
                 "x": {"field": "stage", "type": "ordinal", "sort": ["0", "I", "II", "III", "IV"], "scale": {"paddingInner": 0, "paddingOuter": 0.085},
                       "axis": {"labelAngle": 0, "labelFontSize": 14, "labelFontWeight": "bold", "tickSize": 0, "domainWidth": 2.5, "labelPadding": 7, "title": "Stage", "titleFontSize": 15.5, "titleFontWeight": "bold", "titlePadding": 4}},
                 "y": {"field": "lo", "type": "quantitative", "scale": {"domain": [-4, 9.7246], "nice": false, "zero": false},
                       "axis": {"values": [-4, -2, 0, 2, 4, 6, 8], "labelFontSize": 13, "labelFontWeight": "bold", "tickSize": 5, "tickWidth": 2.5, "domainWidth": 2.5, "labelPadding": 2, "title": null}},
                 "y2": {"field": "q1"},
                 "color": {"field": "stage", "type": "nominal", "scale": {"domain": ["0", "I", "II", "III", "IV"], "range": ["#1f1fff", "#ee1c24", "#4cc214", "#b042e8", "#f28c28"]}, "legend": null}}},
              {"data": {"name": "box"}, "transform": [{"filter": "datum.p == 'd2'"}], "mark": {"type": "rule", "strokeWidth": 2.5},
               "encoding": {"x": {"field": "stage", "type": "ordinal", "sort": ["0", "I", "II", "III", "IV"]}, "y": {"field": "q3", "type": "quantitative"}, "y2": {"field": "hi"}, "color": {"field": "stage", "type": "nominal"}}},
              {"data": {"name": "box"}, "transform": [{"filter": "datum.p == 'd2'"}], "mark": {"type": "bar", "filled": false, "strokeWidth": 2.5, "width": {"band": 0.77}},
               "encoding": {"x": {"field": "stage", "type": "ordinal", "sort": ["0", "I", "II", "III", "IV"]}, "y": {"field": "q1", "type": "quantitative"}, "y2": {"field": "q3"}, "color": {"field": "stage", "type": "nominal"}}},
              {"data": {"name": "box"}, "transform": [{"filter": "datum.p == 'd2'"}], "mark": {"type": "tick", "orient": "horizontal", "size": 25, "thickness": 2.5},
               "encoding": {"x": {"field": "stage", "type": "ordinal", "sort": ["0", "I", "II", "III", "IV"]}, "y": {"field": "med", "type": "quantitative"}, "color": {"field": "stage", "type": "nominal"}}},
              {"data": {"name": "box"}, "transform": [{"filter": "datum.p == 'd2'"}], "mark": {"type": "tick", "orient": "horizontal", "size": 12, "thickness": 2.5},
               "encoding": {"x": {"field": "stage", "type": "ordinal", "sort": ["0", "I", "II", "III", "IV"]}, "y": {"field": "lo", "type": "quantitative"}, "color": {"field": "stage", "type": "nominal"}}},
              {"data": {"name": "box"}, "transform": [{"filter": "datum.p == 'd2'"}], "mark": {"type": "tick", "orient": "horizontal", "size": 12, "thickness": 2.5},
               "encoding": {"x": {"field": "stage", "type": "ordinal", "sort": ["0", "I", "II", "III", "IV"]}, "y": {"field": "hi", "type": "quantitative"}, "color": {"field": "stage", "type": "nominal"}}},
              {"data": {"name": "dtxt"}, "transform": [{"filter": "datum.p == 'd2'"}], "mark": {"type": "text", "align": "left", "baseline": "middle", "dx": -4, "fontSize": 13.5},
               "encoding": {"x": {"field": "stage", "type": "ordinal", "sort": ["0", "I", "II", "III", "IV"]}, "y": {"field": "y", "type": "quantitative"}, "text": {"field": "label"}}}
            ]
          }
        ]
      },
      {
        "width": 285, "height": 188,
        "layer": [
          {
            "layer": [
              {"data": {"name": "km"}, "mark": {"type": "line", "interpolate": "step-after", "strokeWidth": 2.5},
               "encoding": {
                 "x": {"field": "t", "type": "quantitative", "scale": {"domain": [0, 250], "nice": false, "zero": false},
                       "axis": {"values": [0, 50, 100, 150, 200, 250], "labelFontSize": 14, "labelFontWeight": "bold", "tickSize": 5, "tickWidth": 2.5, "domainWidth": 2.5, "labelPadding": 3, "title": "Months", "titleFontSize": 16, "titleFontWeight": "bold", "titlePadding": 8}},
                 "y": {"field": "s", "type": "quantitative", "scale": {"domain": [0, 110], "nice": false, "zero": false},
                       "axis": {"values": [0, 50, 100], "labelFontSize": 14, "labelFontWeight": "bold", "tickSize": 5, "tickWidth": 2.5, "domainWidth": 2.5, "labelPadding": 2, "title": "Overall Survival (%)", "titleFontSize": 15.5, "titleFontWeight": "bold", "titlePadding": 7}},
                 "color": {"field": "grp", "type": "nominal", "scale": {"domain": ["Low (n = 194)", "High (n = 183)"], "range": ["#2424ff", "#e8202a"]},
                           "legend": {"orient": "none", "legendX": 17, "legendY": 125, "title": null, "symbolType": "M-1,0H1M-0.4,-0.22V0.22M0.7,-0.22V0.22", "symbolSize": 900, "symbolStrokeWidth": 2.5, "labelFontSize": 14, "labelOffset": 7, "rowPadding": -3, "padding": 0,
                                      "encode": {"symbols": {"update": {"fill": {"value": "transparent"}}}}}}}},
              {"data": {"name": "kmc"}, "mark": {"type": "tick", "orient": "vertical", "size": 7, "thickness": 1.5},
               "encoding": {"x": {"field": "t", "type": "quantitative"}, "y": {"field": "s", "type": "quantitative"}, "color": {"field": "grp", "type": "nominal"}}}
            ]
          },
          {"data": {"name": "hr"}, "mark": {"type": "text", "align": "left", "baseline": "middle", "fontSize": 14.5},
           "encoding": {
             "x": {"field": "t", "type": "quantitative"},
             "y": {"field": "s", "type": "quantitative", "scale": {"domain": [0, 110], "nice": false, "zero": false},
                   "axis": {"orient": "right", "title": "E", "titleAngle": 0, "titleX": -344, "titleY": -2, "titleAlign": "left", "titleBaseline": "alphabetic", "titleFontSize": 22, "titleFontWeight": "bold", "labels": false, "ticks": false, "domain": false, "grid": false}},
             "text": {"field": "label"}}}
        ],
        "resolve": {"scale": {"y": "independent"}, "axis": {"y": "independent"}}
      }
    ]
  }
]
}
